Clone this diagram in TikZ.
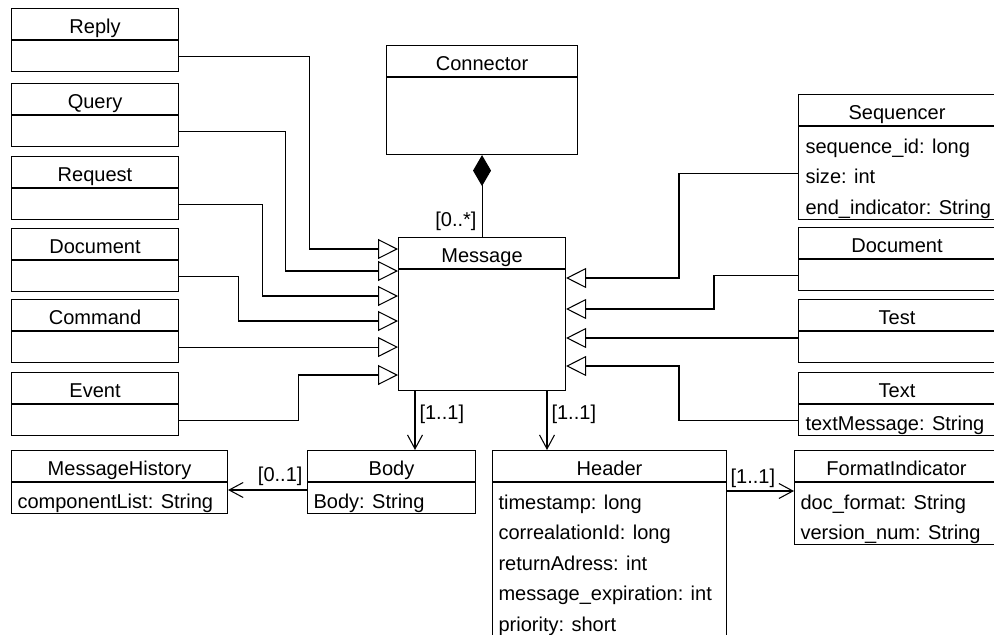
\documentclass[tikz,border=0pt]{standalone}
\usepackage{fontspec}
\setmainfont{Liberation Sans}
\usetikzlibrary{arrows.meta,calc,positioning}

\begin{document}
\begin{tikzpicture}[x=0.02cm, y=-0.02cm, line width=0.6pt,
    every node/.append style={font=\fontsize{11.4pt}{13.7pt}\selectfont},
    hd/.style={draw, anchor=north west, minimum width=#1*0.02cm, minimum height=0.62cm,
      inner sep=0pt, text height=0.38cm, text depth=0pt},
    bd/.style 2 args={draw, minimum width=#1*0.02cm, minimum height=#2*0.02cm, inner sep=0pt},
    attr/.style={anchor=base west, inner sep=0pt},
    gen/.style={-{Triangle[open, length=0.4cm, width=0.4cm]}},
    assoc/.style={-{Straight Barb[length=0.28cm, width=0.3cm]}},
    comp/.style={{Diamond[length=0.62cm, width=0.36cm]}-}]
  \useasboundingbox (0,0) rectangle (994,635);

  % left column
  \node[hd=167] (reply) at (11,8) {Reply};        \node[bd={167}{31}, below=0pt of reply] (reply-b) {};
  \node[hd=167] (query) at (11,83) {Query};       \node[bd={167}{31}, below=0pt of query] (query-b) {};
  \node[hd=167] (request) at (11,156) {Request};  \node[bd={167}{31}, below=0pt of request] (request-b) {};
  \node[hd=167] (docL) at (11,228) {Document};    \node[bd={167}{31}, below=0pt of docL] (docL-b) {};
  \node[hd=167] (command) at (11,299) {Command};  \node[bd={167}{31}, below=0pt of command] (command-b) {};
  \node[hd=167] (event) at (11,372) {Event};      \node[bd={167}{31}, below=0pt of event] (event-b) {};

  % middle
  \node[hd=191] (connector) at (386,45) {Connector}; \node[bd={191}{77}, below=0pt of connector] (connector-b) {};
  \node[hd=167] (message) at (398,237) {Message};    \node[bd={167}{121}, below=0pt of message] (message-b) {};

  % right column
  \node[hd=197] (seq) at (798,94) {Sequencer};    \node[bd={197}{93}, below=0pt of seq] (seq-b) {};
  \node[attr] (seq-a1) at ($(seq-b.north west)+(7,27)$) {sequence\_id: long};
  \node[attr] (seq-a2) at ($(seq-b.north west)+(7,57.5)$) {size: int};
  \node[attr] (seq-a3) at ($(seq-b.north west)+(7,88)$) {end\_indicator: String};
  \node[hd=197] (docR) at (798,227) {Document};   \node[bd={197}{31}, below=0pt of docR] (docR-b) {};
  \node[hd=197] (test) at (798,299) {Test};       \node[bd={197}{31}, below=0pt of test] (test-b) {};
  \node[hd=197] (text) at (798,372) {Text};       \node[bd={197}{31}, below=0pt of text] (text-b) {};
  \node[attr] (text-a1) at ($(text-b.north west)+(7,26)$) {textMessage: String};

  % bottom row
  \node[hd=216] (msgHist) at (11,450) {MessageHistory}; \node[bd={216}{31}, below=0pt of msgHist] (msgHist-b) {};
  \node[attr] (msgHist-a1) at ($(msgHist-b.north west)+(6,26)$) {componentList: String};
  \node[hd=168] (body) at (307,450) {Body};       \node[bd={168}{31}, below=0pt of body] (body-b) {};
  \node[attr] (body-a1) at ($(body-b.north west)+(6,26)$) {Body: String};
  \node[hd=234] (header) at (492,450) {Header};   \node[bd={234}{170}, below=0pt of header] (header-b) {};
  \node[attr] (header-a1) at ($(header-b.north west)+(6,27)$) {timestamp: long};
  \node[attr] (header-a2) at ($(header-b.north west)+(6,57.5)$) {correalationId: long};
  \node[attr] (header-a3) at ($(header-b.north west)+(6,88)$) {returnAdress: int};
  \node[attr] (header-a4) at ($(header-b.north west)+(6,118.5)$) {message\_expiration: int};
  \node[attr] (header-a5) at ($(header-b.north west)+(6,149)$) {priority: short};
  \node[hd=204] (fmt) at (794,450) {FormatIndicator}; \node[bd={204}{62}, below=0pt of fmt] (fmt-b) {};
  \node[attr] (fmt-a1) at ($(fmt-b.north west)+(6,27)$) {doc\_format: String};
  \node[attr] (fmt-a2) at ($(fmt-b.north west)+(6,57.5)$) {version\_num: String};

  % ends on Message
  \coordinate (m1) at ($(message.north west)+(0,12)$);
  \coordinate (m2) at ($(message.north west)+(0,34)$);
  \coordinate (m3) at ($(message.north west)+(0,59)$);
  \coordinate (m4) at ($(message.north west)+(0,84)$);
  \coordinate (m6) at ($(message.north west)+(0,138)$);
  \coordinate (r1) at ($(message.north east)+(0,41)$);
  \coordinate (r2) at ($(message.north east)+(0,72)$);
  \coordinate (r3) at ($(message.north east)+(0,101)$);
  \coordinate (r4) at ($(message.north east)+(0,129)$);
  \coordinate (b1) at ($(message-b.south west)+(17,0)$);
  \coordinate (h1) at ($(message-b.south west)+(149,0)$);
  \coordinate (bm) at ($(body.north west)+(0,40)$);
  \coordinate (hf) at ($(header.north east)+(0,41)$);

  \draw[gen] (reply-b.east) -- ++(130,0) |- (m1);
  \draw[gen] (query-b.east) -- ++(106,0) |- (m2);
  \draw[gen] (request-b.east) -- ++(83,0) |- (m3);
  \draw[gen] (docL-b.east) -- ++(59,0) |- (m4);
  \draw[gen] (command-b.east) -- (command-b.east -| message.west);
  \draw[gen] (event-b.east) -- ++(119,0) |- (m6);

  \draw[gen] (seq-b.west) -- ++(-119,0) |- (r1);
  \draw[gen] (docR-b.west) -- ++(-84,0) |- (r2);
  \draw[gen] (r3 -| test-b.west) -- (r3);
  \draw[gen] (text-b.west) -- ++(-119,0) |- (r4);

  \draw[comp] (connector-b.south) -- (message.north) node[pos=0.81, left, inner sep=0.1cm] (mult-conn) {[0..*]};
  \draw[assoc] (b1) -- (b1 |- body.north) node[pos=0.4, right, inner sep=0.08cm] (mult-body) {[1..1]};
  \draw[assoc] (h1) -- (h1 |- header.north) node[pos=0.4, right, inner sep=0.08cm] (mult-header) {[1..1]};
  \draw[assoc] (bm) -- (bm -| msgHist.east) node[pos=0, anchor=south east, inner sep=0.08cm] (mult-hist) {[0..1]};
  \draw[assoc] (hf) -- (hf -| fmt.west) node[pos=0, anchor=south west, inner sep=0.06cm] (mult-fmt) {[1..1]};
\end{tikzpicture}
\end{document}
